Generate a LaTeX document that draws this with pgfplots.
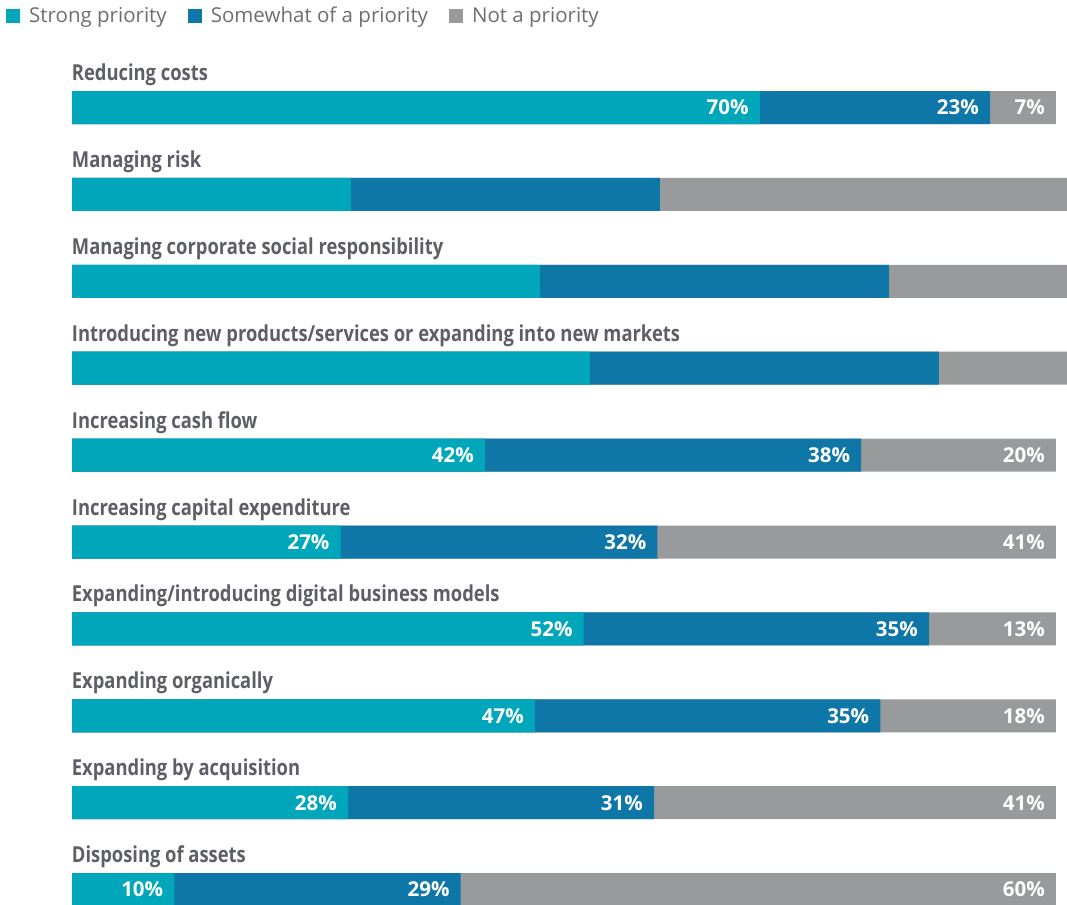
\documentclass[border=0pt]{standalone}
\usepackage{fontspec}
\setmainfont{Open Sans}
\newfontfamily\catfont[FakeStretch=0.835]{Open Sans}
\usepackage{pgfplots}
\pgfplotsset{compat=1.18}

\definecolor{cteal}{HTML}{00A7BB}
\definecolor{cblue}{HTML}{0F76A8}
\definecolor{cgrey}{HTML}{999A9C}
\definecolor{labgrey}{HTML}{5E5F66}
\definecolor{leggrey}{HTML}{6D6E72}

% rows without a printed value carry the meta "x"
\def\nolab{x}
\def\pctlabel{\edef\tmp{\pgfplotspointmeta}\ifx\tmp\nolab\else\tmp\%\fi}

\begin{document}
\begin{tikzpicture}
\useasboundingbox (0,0) rectangle (1067bp,905bp);
\begin{axis}[
    at={(72bp,840.95bp)}, anchor=north west,
    scale only axis, width=995bp, height=869bp,
    xmin=0, xmax=101.12, ymin=-0.5, ymax=9.5, y dir=reverse,
    xbar, bar shift=0pt, bar width=33bp,
    axis line style={draw=none}, tick style={draw=none},
    xtick=\empty, ytick={0,...,9},
    yticklabels={Reducing costs, Managing risk, Managing corporate social responsibility,
        Introducing new products/services or expanding into new markets,
        Increasing cash flow, Increasing capital expenditure,
        Expanding/introducing digital business models, Expanding organically,
        Expanding by acquisition, Disposing of assets},
    yticklabel style={anchor=base west, inner sep=0pt, xshift=4bp, yshift=27bp,
        font=\catfont\bfseries\fontsize{22bp}{26bp}\selectfont, text=labgrey},
    point meta=explicit symbolic,
    nodes near coords={\pctlabel},
    every node near coord/.append style={anchor=east, inner sep=0pt, xshift=-11bp,
        font=\bfseries\fontsize{20.5bp}{25bp}\selectfont, text=white},
    legend columns=3, reverse legend,
    legend image code/.code={\fill[#1] (0bp,-7bp) rectangle (14bp,7bp);},
    legend style={at={(axis description cs:-0.0663,1.068)}, anchor=north west,
        draw=none, fill=none, inner sep=0pt,
        font=\fontsize{20.5bp}{24bp}\selectfont, text=leggrey,
        /tikz/every odd column/.append style={column sep=7bp},
        /tikz/every even column/.append style={column sep=19bp}},
]
% bars drawn back to front: each value is where its segment ends (percent of the whole)
\addplot[fill=cgrey, draw=none] coordinates {
    (100,0) [7] (102,1) [x] (102,2) [x] (102,3) [x] (100,4) [20]
    (100,5) [41] (100,6) [13] (100,7) [18] (100,8) [41] (100,9) [60]
};
\addplot[fill=cblue, draw=none] coordinates {
    (93.3,0) [23] (59.75,1) [x] (83.03,2) [x] (88.11,3) [x] (80.2,4) [38]
    (59.5,5) [32] (87.1,6) [35] (82.15,7) [35] (59.15,8) [31] (39.5,9) [29]
};
\addplot[fill=cteal, draw=none] coordinates {
    (69.9,0) [70] (28.35,1) [x] (47.56,2) [x] (52.64,3) [x] (41.97,4) [42]
    (27.3,5) [27] (52.0,6) [52] (47.05,7) [47] (28.05,8) [28] (10.4,9) [10]
};
\legend{Not a priority, Somewhat of a priority, Strong priority}
\end{axis}
\end{tikzpicture}
\end{document}
